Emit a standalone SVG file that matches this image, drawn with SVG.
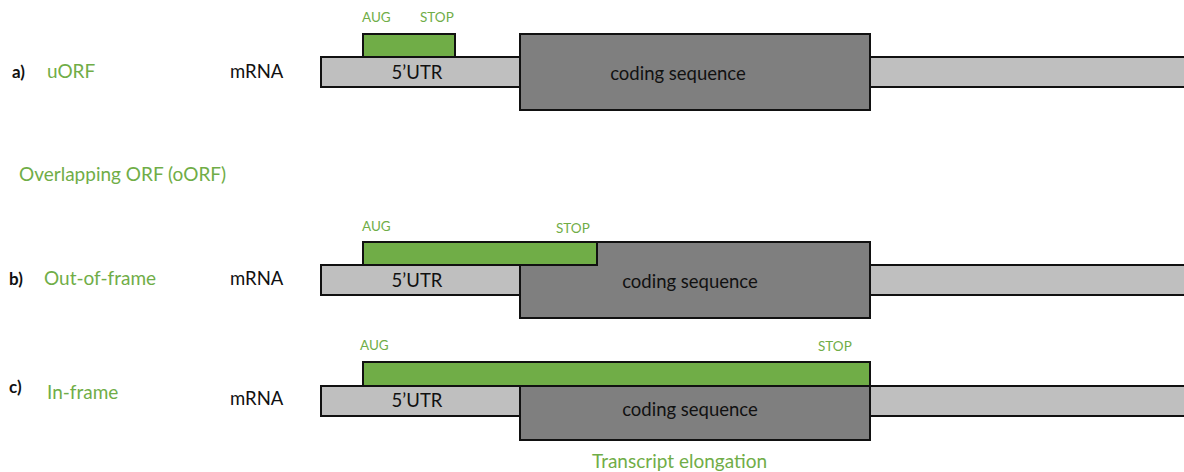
<svg xmlns="http://www.w3.org/2000/svg" width="1184" height="472" viewBox="0 0 1184 472">
<style>
text{font-family:Lato,"Liberation Sans",sans-serif}
.orf{fill:#70AD47;stroke:#111;stroke-width:2}
.utr{fill:#BFBFBF;stroke:#111;stroke-width:2}
.cds{fill:#7F7F7F;stroke:#111;stroke-width:2}
.sm{font-size:13.5px;fill:#70AD47}
.lab{font-size:19px;fill:#70AD47}
.blk{font-size:18.5px;fill:#111}
.bold{font-size:17px;font-weight:bold;fill:#111}
.mid{text-anchor:middle}
</style>
<rect width="1184" height="472" fill="#fff"/>
<text x="19" y="181" class="lab">Overlapping ORF (oORF)</text>
<text x="592" y="468" class="lab">Transcript elongation</text>

<g id="row-a">
<text x="12" y="78" class="bold">a)</text>
<text x="47" y="78" class="lab">uORF</text>
<text x="230" y="78" class="blk">mRNA</text>
<rect x="363" y="34" width="92" height="23" class="orf"/>
<rect x="321" y="57" width="199" height="30" class="utr"/>
<rect x="870" y="57" width="320" height="30" class="utr"/>
<rect x="520" y="34" width="350" height="76" class="cds"/>
<text x="417" y="79" class="blk mid">5’UTR</text>
<text x="678" y="80" class="blk mid">coding sequence</text>
<text x="362" y="22" class="sm">AUG</text>
<text x="420" y="22" class="sm">STOP</text>
</g>

<g id="row-b">
<text x="9" y="285" class="bold">b)</text>
<text x="44" y="285" class="lab">Out-of-frame</text>
<text x="230" y="285" class="blk">mRNA</text>
<rect x="321" y="265" width="199" height="30" class="utr"/>
<rect x="870" y="265" width="320" height="30" class="utr"/>
<rect x="520" y="242" width="350" height="76" class="cds"/>
<rect x="363" y="242" width="234" height="23" class="orf"/>
<text x="417" y="287" class="blk mid">5’UTR</text>
<text x="690" y="288" class="blk mid">coding sequence</text>
<text x="362" y="231" class="sm">AUG</text>
<text x="556" y="233" class="sm">STOP</text>
</g>

<g id="row-c">
<text x="9" y="393" class="bold">c)</text>
<text x="47" y="399" class="lab">In-frame</text>
<text x="230" y="405" class="blk">mRNA</text>
<rect x="321" y="386" width="199" height="30" class="utr"/>
<rect x="870" y="386" width="320" height="30" class="utr"/>
<rect x="520" y="386" width="350" height="54" class="cds"/>
<rect x="363" y="362" width="507" height="24" class="orf"/>
<text x="417" y="407" class="blk mid">5’UTR</text>
<text x="690" y="416" class="blk mid">coding sequence</text>
<text x="360" y="350" class="sm">AUG</text>
<text x="818" y="351" class="sm">STOP</text>
</g>
</svg>
